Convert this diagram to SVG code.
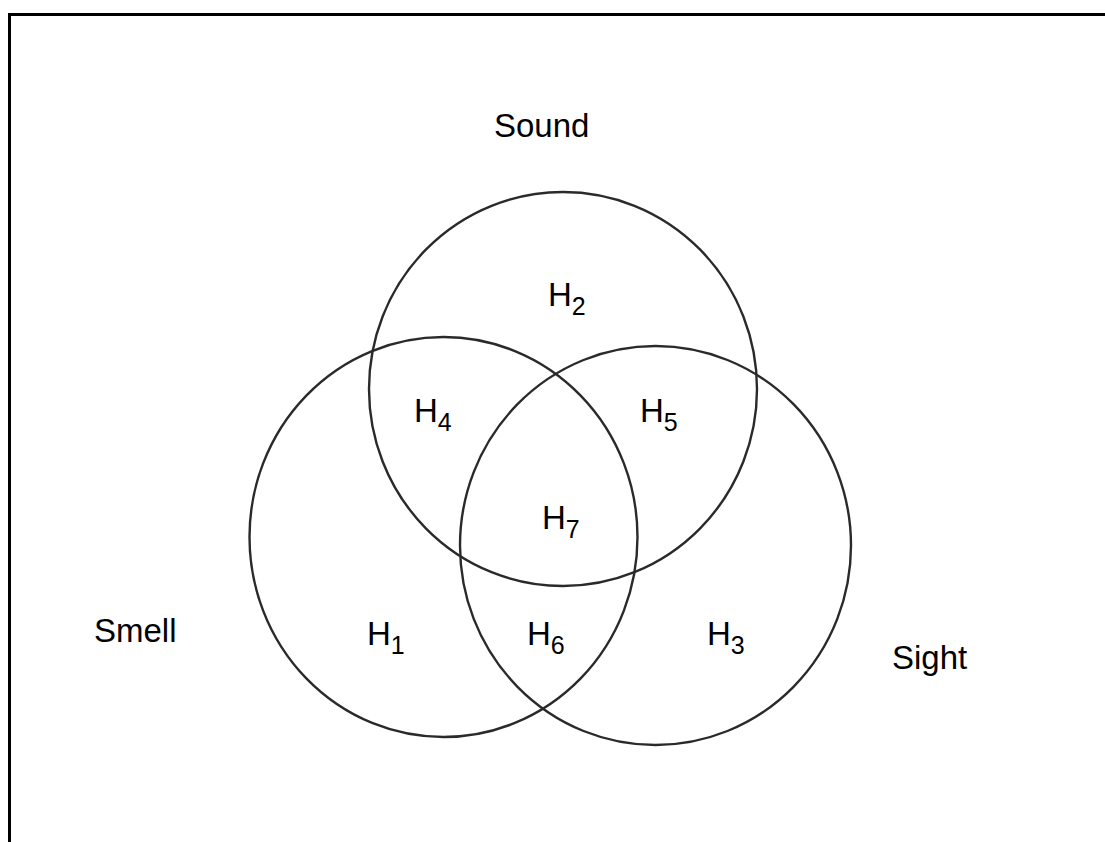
<svg xmlns="http://www.w3.org/2000/svg" width="1105" height="842" viewBox="0 0 1105 842">
<style>
.c{fill:none;stroke:#2a2a2a;stroke-width:2.4}
.t{font-family:"Liberation Sans",Arial,sans-serif;font-size:33px;fill:#000}
.s{font-size:25px}
</style>
<rect width="1105" height="842" fill="#fff"/>
<path d="M9.5 842 V14.5 H1105" fill="none" stroke="#000" stroke-width="3"/>
<g id="sound"><ellipse class="c" cx="563" cy="389" rx="194" ry="197"/></g>
<g id="smell"><ellipse class="c" cx="443.5" cy="537" rx="194" ry="200"/></g>
<g id="sight"><ellipse class="c" cx="655.5" cy="545.5" rx="195.5" ry="199.5"/></g>
<g id="labels">
<text class="t" x="494" y="137">Sound</text>
<text class="t" x="94" y="642">Smell</text>
<text class="t" x="892" y="669">Sight</text>
<text class="t" x="548" y="306">H<tspan class="s" dy="9">2</tspan></text>
<text class="t" x="414" y="422">H<tspan class="s" dy="9">4</tspan></text>
<text class="t" x="640" y="422">H<tspan class="s" dy="9">5</tspan></text>
<text class="t" x="542" y="529">H<tspan class="s" dy="9">7</tspan></text>
<text class="t" x="367" y="645">H<tspan class="s" dy="9">1</tspan></text>
<text class="t" x="527" y="645">H<tspan class="s" dy="9">6</tspan></text>
<text class="t" x="707" y="645">H<tspan class="s" dy="9">3</tspan></text>
</g>
</svg>
